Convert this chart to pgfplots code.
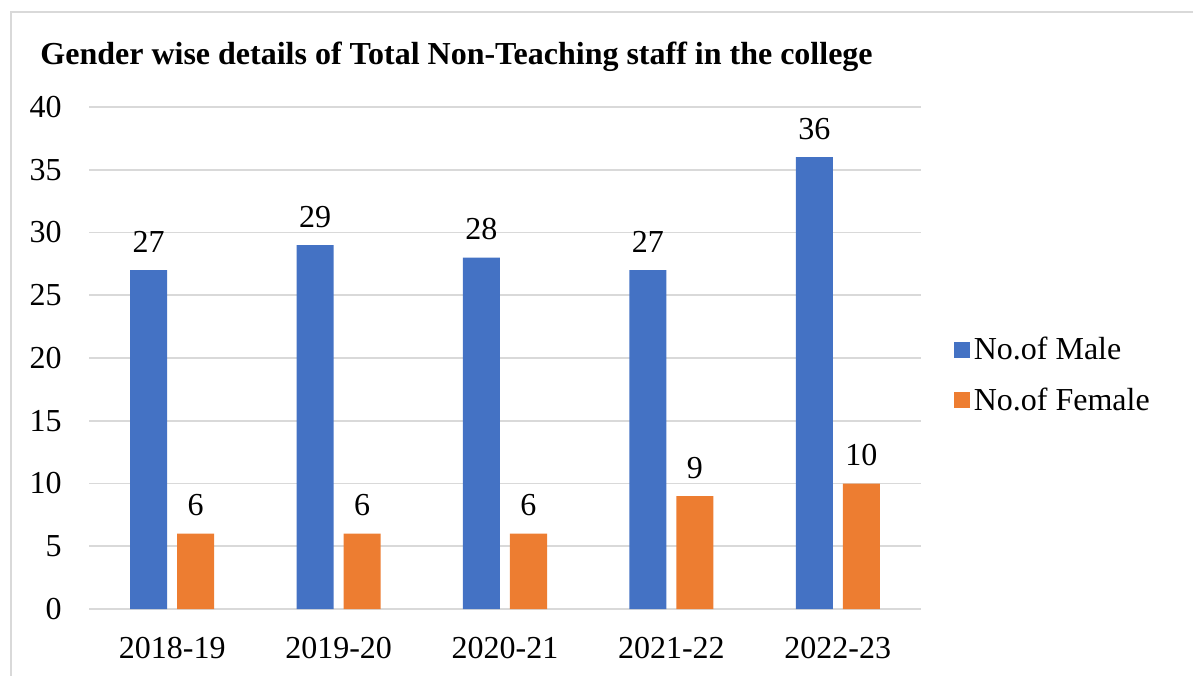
\documentclass[border=0pt]{standalone}
\usepackage{fontspec}
\setmainfont{Liberation Serif}
\usepackage{pgfplots}
\pgfplotsset{compat=1.18}
\definecolor{male}{HTML}{4472C4}
\definecolor{female}{HTML}{ED7D31}
\definecolor{gridc}{HTML}{D9D9D9}
\begin{document}
\begin{tikzpicture}
\useasboundingbox (0,0) rectangle (596.5pt,337.5pt);
\draw[gridc, line width=0.8pt] (5.5pt,-2pt) -- (5.5pt,331.5pt) -- (600pt,331.5pt);
\node[anchor=west, font=\fontsize{16}{18}\selectfont\bfseries, inner sep=0pt] at (20pt,309pt)
  {Gender wise details of Total Non-Teaching staff in the college};
\begin{axis}[
    at={(44.5pt,33pt)}, anchor=south west,
    scale only axis, width=416pt, height=251pt,
    ybar, bar width=18.5pt,
    xmin=-0.5, xmax=4.5, ymin=0, ymax=40,
    xtick={0,1,2,3,4},
    xticklabels={2018-19,2019-20,2020-21,2021-22,2022-23},
    ytick={0,5,...,40},
    axis line style={draw=none},
    axis x line*=bottom,
    x axis line style={draw=gridc, line width=0.8pt},
    major tick length=0pt,
    ymajorgrids, grid style={gridc, line width=0.8pt},
    tick label style={font=\fontsize{16}{18}\selectfont, /pgf/number format/assume math mode=true},
    xticklabel style={anchor=base, yshift=-24.5pt},
    yticklabel style={anchor=east, inner sep=0pt, xshift=-13.5pt},
    nodes near coords,
    every node near coord/.append style={font=\fontsize{16}{18}\selectfont, anchor=base, yshift=9pt, black, /pgf/number format/assume math mode=true},
    legend style={draw=none, fill=none, at={(1.039,0.466)}, anchor=west,
      font=\fontsize{16}{18}\selectfont, row sep=8.5pt,
      /tikz/every odd column/.style={}, inner sep=0pt},
    legend cell align=left,
    legend image code/.code={\fill[#1] (0pt,-4pt) rectangle (8pt,4pt);},
]
\addplot[fill=male, draw=none, bar shift=-11.75pt] coordinates {(0,27) (1,29) (2,28) (3,27) (4,36)};
\addlegendentry{No.of Male}
\addplot[fill=female, draw=none, bar shift=11.75pt] coordinates {(0,6) (1,6) (2,6) (3,9) (4,10)};
\addlegendentry{No.of Female}
\end{axis}
\end{tikzpicture}
\end{document}
